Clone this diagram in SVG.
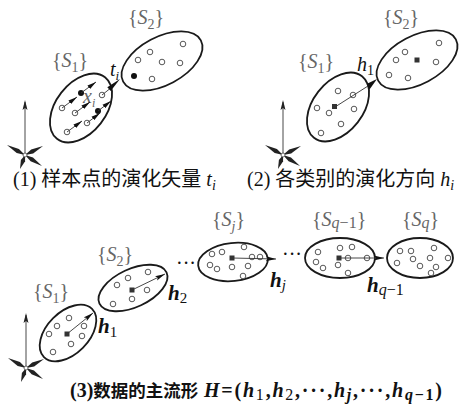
<svg xmlns="http://www.w3.org/2000/svg" xmlns:xlink="http://www.w3.org/1999/xlink" width="470" height="415" viewBox="0 0 470 415">
<style>
.ell{fill:none;stroke:#1a1a1a;stroke-width:1.8}
.pt{fill:#fff;stroke:#444;stroke-width:0.9}
.fp{fill:#111}
.sq{fill:#333}
.lbl{font-family:"Liberation Serif","Times New Roman",serif;font-size:20px;fill:#666}
.cap{font-family:"Liberation Serif","Noto Sans CJK SC",serif;font-size:20px;fill:#111}
.hl{font-family:"Liberation Serif","Times New Roman",serif;font-size:21px;fill:#111}
.ln{stroke:#333;stroke-width:0.9;fill:none}
.it{font-style:italic}
</style>
<defs>
<marker id="ah" markerUnits="userSpaceOnUse" markerWidth="10" markerHeight="6" refX="10" refY="3" orient="auto"><path d="M0,0.6 L10,3 L0,5.4 L2,3 z" fill="#111"/></marker>
<marker id="ahs" markerUnits="userSpaceOnUse" markerWidth="9" markerHeight="5" refX="9" refY="2.5" orient="auto"><path d="M0,0.3 L9,2.5 L0,4.7 z" fill="#111"/></marker>
<g id="axes">
<line x1="0" y1="0" x2="0" y2="-53" stroke="#333" stroke-width="0.9"/>
<polygon points="0,-55 -2.5,-45 0,-47 2.5,-45" fill="#222"/>
<polygon points="0,0 -6.1,-5.9 -18,-10 -8.3,-2.1" fill="#222"/>
<polygon points="0,0 8.2,-1.6 18,-9 6.2,-5.6" fill="#222"/>
<polygon points="0,0 5.6,6.2 17,11 8,2.6" fill="#222"/>
<polygon points="0,0 -4.1,4.9 -5,14 0.1,6.3" fill="#222"/>
<circle cx="0" cy="0" r="2" fill="#fff" stroke="#444" stroke-width="0.8"/>
</g>
</defs>

<!-- Panel 1 -->
<g id="p1-axes"><use xlink:href="#axes" x="25" y="155"/></g>
<g id="p1-S1">
<ellipse class="ell" cx="81" cy="108" rx="39" ry="25" transform="rotate(-52 81 108)"/>
<circle class="pt" cx="102" cy="95" r="2.8"/>
<circle class="pt" cx="62" cy="108" r="2.8"/>
<circle class="pt" cx="75" cy="113" r="2.8"/>
<circle class="pt" cx="87" cy="123" r="2.8"/>
<circle class="pt" cx="67" cy="132" r="2.8"/>
<circle class="fp" cx="81" cy="93" r="3"/>
<circle class="fp" cx="98" cy="111" r="3"/>
<text class="lbl" x="52" y="67">{<tspan class="it">S</tspan><tspan font-size="14" dy="5">1</tspan><tspan dy="-5">}</tspan></text>
<text class="lbl" x="83" y="103" font-size="17" fill="#444"><tspan class="it">x</tspan><tspan class="it" font-size="12" dy="4">i</tspan></text>
</g>
<g id="p1-S2">
<ellipse class="ell" cx="162" cy="61" rx="44" ry="24" transform="rotate(-28 162 61)"/>
<circle class="pt" cx="183" cy="44" r="2.8"/>
<circle class="pt" cx="150" cy="52" r="2.8"/>
<circle class="pt" cx="138" cy="60" r="2.8"/>
<circle class="pt" cx="162" cy="62" r="2.8"/>
<circle class="pt" cx="180" cy="63" r="2.8"/>
<circle class="pt" cx="152" cy="79" r="2.8"/>
<circle class="fp" cx="134" cy="76" r="3"/>
<text class="lbl" x="128" y="24">{<tspan class="it">S</tspan><tspan font-size="14" dy="5">2</tspan><tspan dy="-5">}</tspan></text>
</g>

<!-- Panel 2 -->
<g id="p2-axes"><use xlink:href="#axes" x="283" y="155"/></g>
<g id="p2-S1">
<ellipse class="ell" cx="338" cy="107" rx="39" ry="25" transform="rotate(-52 338 107)"/>
<circle class="pt" cx="338" cy="91" r="2.8"/>
<circle class="pt" cx="353" cy="95" r="2.8"/>
<circle class="pt" cx="317" cy="108" r="2.8"/>
<circle class="pt" cx="329" cy="113" r="2.8"/>
<circle class="pt" cx="354" cy="109" r="2.8"/>
<circle class="pt" cx="341" cy="124" r="2.8"/>
<circle class="pt" cx="321" cy="133" r="2.8"/>
<rect class="sq" x="332" y="104" width="5" height="5"/>
<text class="lbl" x="298" y="68">{<tspan class="it">S</tspan><tspan font-size="14" dy="5">1</tspan><tspan dy="-5">}</tspan></text>
</g>
<g id="p2-S2">
<ellipse class="ell" cx="417" cy="60" rx="44" ry="24" transform="rotate(-28 417 60)"/>
<circle class="pt" cx="405" cy="52" r="2.8"/>
<circle class="pt" cx="396" cy="60" r="2.8"/>
<circle class="pt" cx="439" cy="43" r="2.8"/>
<circle class="pt" cx="436" cy="62" r="2.8"/>
<circle class="pt" cx="389" cy="75" r="2.8"/>
<circle class="pt" cx="408" cy="78" r="2.8"/>
<rect class="sq" x="414.5" y="57.5" width="5" height="5"/>
<text class="lbl" x="383" y="24">{<tspan class="it">S</tspan><tspan font-size="14" dy="5">2</tspan><tspan dy="-5">}</tspan></text>
</g>

<!-- Panel 3 -->
<g id="p3-axes"><use xlink:href="#axes" x="26" y="368"/></g>
<g id="p3-S1">
<ellipse class="ell" cx="68" cy="333" rx="34" ry="21" transform="rotate(-45 68 333)"/>
<circle class="pt" cx="57" cy="326" r="2.8"/>
<circle class="pt" cx="69" cy="318" r="2.8"/>
<circle class="pt" cx="49" cy="334" r="2.8"/>
<circle class="pt" cx="84" cy="326" r="2.8"/>
<circle class="pt" cx="82" cy="336" r="2.8"/>
<circle class="pt" cx="71" cy="344" r="2.8"/>
<circle class="pt" cx="53" cy="352" r="2.8"/>
<rect class="sq" x="64.5" y="331.5" width="5" height="5"/>
<text class="lbl" x="33" y="298">{<tspan class="it">S</tspan><tspan font-size="14" dy="5">1</tspan><tspan dy="-5">}</tspan></text>
</g>
<g id="p3-S2">
<ellipse class="ell" cx="133" cy="288" rx="37" ry="19" transform="rotate(-25 133 288)"/>
<circle class="pt" cx="128" cy="278" r="2.8"/>
<circle class="pt" cx="148" cy="272" r="2.8"/>
<circle class="pt" cx="117" cy="285" r="2.8"/>
<circle class="pt" cx="147" cy="290" r="2.8"/>
<circle class="pt" cx="132" cy="299" r="2.8"/>
<circle class="pt" cx="113" cy="304" r="2.8"/>
<rect class="sq" x="129.5" y="287.5" width="5" height="5"/>
<text class="lbl" x="97" y="261">{<tspan class="it">S</tspan><tspan font-size="14" dy="5">2</tspan><tspan dy="-5">}</tspan></text>
</g>
<g id="p3-Sj">
<ellipse class="ell" cx="233" cy="262" rx="35" ry="19" transform="rotate(-6 233 262)"/>
<circle class="pt" cx="212" cy="254" r="2.8"/>
<circle class="pt" cx="222" cy="252" r="2.8"/>
<circle class="pt" cx="244" cy="247" r="2.8"/>
<circle class="pt" cx="252" cy="257" r="2.8"/>
<circle class="pt" cx="260" cy="257" r="2.8"/>
<circle class="pt" cx="210" cy="265" r="2.8"/>
<circle class="pt" cx="217" cy="269" r="2.8"/>
<circle class="pt" cx="232" cy="267" r="2.8"/>
<circle class="pt" cx="248" cy="266" r="2.8"/>
<circle class="pt" cx="243" cy="276" r="2.8"/>
<rect class="sq" x="229.5" y="255.5" width="5" height="5"/>
<text class="lbl" x="212" y="226">{<tspan class="it">S</tspan><tspan class="it" font-size="14" dy="5">j</tspan><tspan dy="-5">}</tspan></text>
</g>
<g id="p3-Sq1">
<ellipse class="ell" cx="340" cy="258" rx="35" ry="20"/>
<circle class="pt" cx="318" cy="252" r="2.8"/>
<circle class="pt" cx="340" cy="248" r="2.8"/>
<circle class="pt" cx="352" cy="247" r="2.8"/>
<circle class="pt" cx="348" cy="258" r="2.8"/>
<circle class="pt" cx="367" cy="258" r="2.8"/>
<circle class="pt" cx="316" cy="262" r="2.8"/>
<circle class="pt" cx="323" cy="268" r="2.8"/>
<circle class="pt" cx="338" cy="265" r="2.8"/>
<circle class="pt" cx="348" cy="273" r="2.8"/>
<rect class="sq" x="336.5" y="255.5" width="5" height="5"/>
<text class="lbl" x="312" y="226">{<tspan class="it">S</tspan><tspan class="it" font-size="16" dy="2">q</tspan><tspan font-size="16">−1</tspan><tspan dy="-2">}</tspan></text>
</g>
<g id="p3-Sq">
<ellipse class="ell" cx="420" cy="258" rx="33" ry="20"/>
<circle class="pt" cx="400" cy="251" r="2.8"/>
<circle class="pt" cx="411" cy="251" r="2.8"/>
<circle class="pt" cx="434" cy="248" r="2.8"/>
<circle class="pt" cx="413" cy="259" r="2.8"/>
<circle class="pt" cx="430" cy="258" r="2.8"/>
<circle class="pt" cx="448" cy="258" r="2.8"/>
<circle class="pt" cx="397" cy="263" r="2.8"/>
<circle class="pt" cx="420" cy="266" r="2.8"/>
<circle class="pt" cx="436" cy="267" r="2.8"/>
<circle class="pt" cx="431" cy="273" r="2.8"/>
<text class="lbl" x="402" y="226">{<tspan class="it">S</tspan><tspan class="it" font-size="16" dy="2">q</tspan><tspan dy="-2">}</tspan></text>
</g>

<!-- Connectors -->
<g id="connectors">
<line class="ln" x1="62" y1="108" x2="77" y2="97" marker-end="url(#ahs)"/>
<line class="ln" x1="75" y1="113" x2="90" y2="102" marker-end="url(#ahs)"/>
<line class="ln" x1="87" y1="123" x2="100" y2="113" marker-end="url(#ahs)"/>
<line class="ln" x1="67" y1="132" x2="82" y2="121" marker-end="url(#ahs)"/>
<line class="ln" x1="81" y1="93" x2="96" y2="82" marker-end="url(#ahs)"/>
<line class="ln" x1="98" y1="111" x2="111" y2="101" marker-end="url(#ahs)"/>
<line class="ln" x1="102" y1="95" x2="112" y2="87"/>
<polygon points="120,79 110.7,90.9 107.3,87.2" fill="#111"/>
<line class="ln" x1="335" y1="107" x2="368" y2="86"/>
<polygon points="377,79 369.5,89.5 366.5,84" fill="#111"/>
<line class="ln" x1="67" y1="334" x2="93" y2="313" marker-end="url(#ah)"/>
<line class="ln" x1="132" y1="290" x2="165" y2="274" marker-end="url(#ah)"/>
<line class="ln" x1="232" y1="258" x2="276" y2="259" marker-end="url(#ah)"/>
<line class="ln" x1="339" y1="258" x2="384" y2="258" marker-end="url(#ah)"/>
</g>

<!-- labels -->
<text class="cap" x="110" y="76" font-size="19"><tspan class="it">t</tspan><tspan class="it" font-size="13" dy="4">i</tspan></text>
<text class="cap" x="357" y="71" font-size="19"><tspan class="it">h</tspan><tspan font-size="14" dy="4">1</tspan></text>
<text class="hl" x="98" y="333"><tspan font-weight="bold" font-style="italic">h</tspan><tspan font-size="15" dy="4">1</tspan></text>
<text class="hl" x="168" y="300"><tspan font-weight="bold" font-style="italic">h</tspan><tspan font-size="15" dy="3">2</tspan></text>
<text class="hl" x="270" y="287"><tspan font-weight="bold" font-style="italic">h</tspan><tspan class="it" font-size="15" dy="3">j</tspan></text>
<text class="hl" x="367" y="292"><tspan font-weight="bold" font-style="italic">h</tspan><tspan class="it" font-size="16" dy="3">q</tspan><tspan font-size="16">−1</tspan></text>
<text class="cap" x="176" y="270" font-size="12">···</text>
<text class="cap" x="282" y="261" font-size="12">···</text>

<!-- captions -->
<text class="cap" x="13" y="186">(1) 样本点的演化矢量 <tspan class="it">t</tspan><tspan class="it" font-size="14" dy="4">i</tspan></text>
<text class="cap" x="247" y="186">(2) 各类别的演化方向 <tspan class="it">h</tspan><tspan class="it" font-size="14" dy="4">i</tspan></text>
<text class="cap" x="70" y="397" font-weight="bold">(3)<tspan font-size="17.5">数据的主流形</tspan></text>
<text class="cap" x="204" y="397" font-weight="bold" font-size="21" textLength="238" lengthAdjust="spacing"><tspan class="it">H</tspan>=(<tspan class="it">h</tspan><tspan font-size="16" font-weight="normal" dy="3">1</tspan><tspan dy="-3">,</tspan><tspan class="it">h</tspan><tspan font-size="16" font-weight="normal" dy="3">2</tspan><tspan dy="-3">,···,</tspan><tspan class="it">h</tspan><tspan class="it" font-size="16" dy="3">j</tspan><tspan dy="-3">,···,</tspan><tspan class="it">h</tspan><tspan class="it" font-size="16" dy="3">q</tspan><tspan font-size="16">−1</tspan><tspan dy="-3">)</tspan></text>
</svg>
